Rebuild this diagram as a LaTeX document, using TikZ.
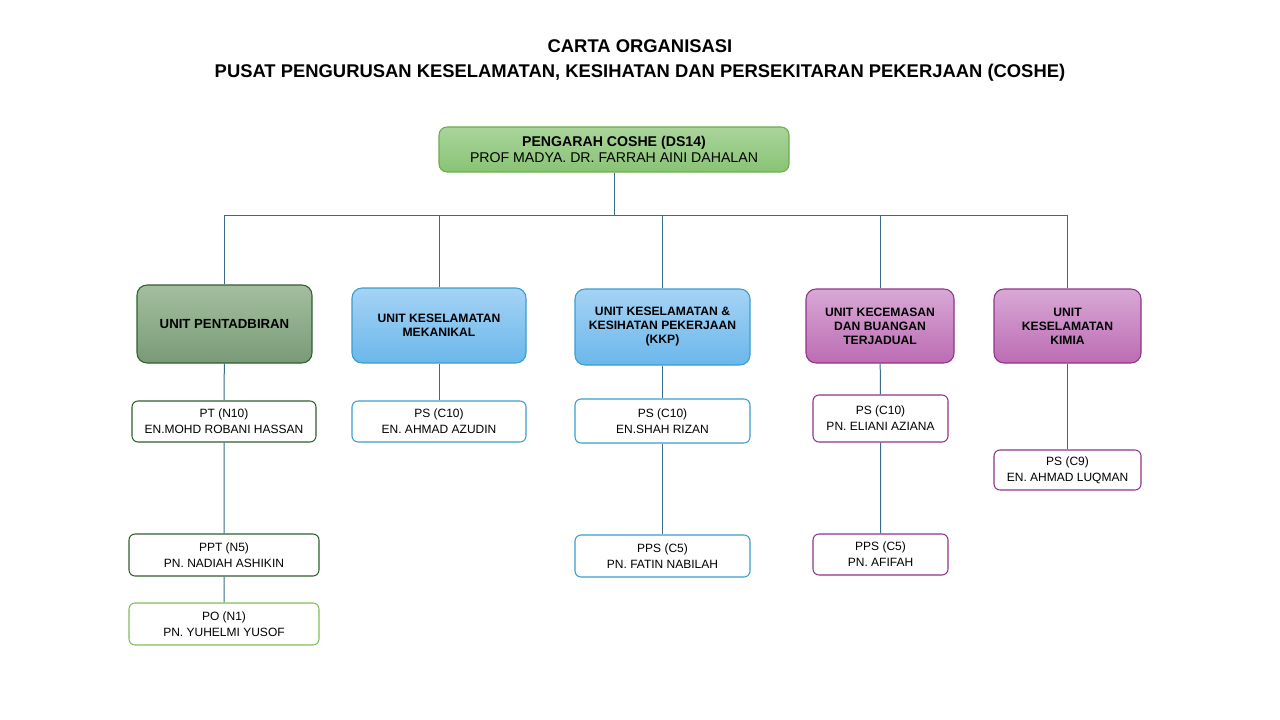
\documentclass[tikz,border=0pt]{standalone}
\usepackage{fontspec}
\setmainfont{Liberation Sans}
\definecolor{lnblue}{HTML}{3A6B8C}
\definecolor{grnA}{HTML}{AAD49C}
\definecolor{grnB}{HTML}{88C474}
\definecolor{grnD}{HTML}{6AAD4A}
\definecolor{oliA}{HTML}{A3BE9F}
\definecolor{oliB}{HTML}{7A9B77}
\definecolor{oliD}{HTML}{2F5E2F}
\definecolor{bluA}{HTML}{A5D3F5}
\definecolor{bluB}{HTML}{6BB7EB}
\definecolor{bluD}{HTML}{3A9CCF}
\definecolor{purA}{HTML}{D8A8D5}
\definecolor{purB}{HTML}{BC6CB4}
\definecolor{purD}{HTML}{8F348A}
\definecolor{ltgD}{HTML}{7CBF5A}
\tikzset{every picture/.style={line width=0.75pt}}
\tikzset{
  unitbox/.style={rounded corners=7.5pt, draw=#1, line width=0.8pt, align=center,
    font=\fontsize{9.1}{10.5}\selectfont\bfseries, inner sep=0.75pt},
  staffbox/.style={rounded corners=4.5pt, draw=#1, fill=white, line width=0.8pt, align=center,
    font=\fontsize{9}{12}\selectfont, inner sep=0.75pt},
  link/.style={draw=lnblue, line width=0.75pt}
}

\begin{document}
\begin{tikzpicture}[x=0.75pt,y=0.75pt,yscale=-1,xscale=1]
\useasboundingbox (0,0) rectangle (1280,720);

% Title
\draw (640,60.5) node [align=center, font=\fontsize{13.8}{18.75}\selectfont\bfseries] (title)
  {CARTA ORGANISASI\\PUSAT PENGURUSAN KESELAMATAN, KESIHATAN DAN PERSEKITARAN PEKERJAAN (COSHE)};

% Pengarah
\draw (614,149.5) node [rounded corners=6pt, draw=grnD, top color=grnA, bottom color=grnB, line width=0.8pt,
  minimum width=262.5pt, minimum height=33.75pt, align=center, inner sep=0.75pt,
  font=\fontsize{10.6}{12}\selectfont] (dir)
  {\textbf{PENGARAH COSHE (DS14)}\\PROF MADYA. DR. FARRAH AINI DAHALAN};

% Unit boxes
\draw (224.5,324) node [unitbox=oliD, top color=oliA, bottom color=oliB, minimum width=131.25pt, minimum height=58.5pt,
  font=\fontsize{9.9}{11}\selectfont\bfseries] (upen) {UNIT PENTADBIRAN};
\draw (439,325.5) node [unitbox=bluD, top color=bluA, bottom color=bluB, minimum width=130.5pt, minimum height=56.25pt] (umek)
  {UNIT KESELAMATAN\\MEKANIKAL};
\draw (662.5,327) node [unitbox=bluD, top color=bluA, bottom color=bluB, minimum width=131.25pt, minimum height=57pt] (ukkp)
  {UNIT KESELAMATAN \&\\KESIHATAN PEKERJAAN\\(KKP)};
\draw (880,326) node [unitbox=purD, top color=purA, bottom color=purB, minimum width=111pt, minimum height=55.5pt] (ukec)
  {UNIT KECEMASAN\\DAN BUANGAN\\TERJADUAL};
\draw (1067.5,326) node [unitbox=purD, top color=purA, bottom color=purB, minimum width=110.25pt, minimum height=55.5pt] (ukim)
  {UNIT\\KESELAMATAN\\KIMIA};

% Staff boxes
\draw (224,421.5) node [staffbox=oliD, minimum width=138pt, minimum height=30.75pt] (pt) {PT (N10)\\EN.MOHD ROBANI HASSAN};
\draw (224,555) node [staffbox=oliD, minimum width=142.5pt, minimum height=31.5pt] (ppt) {PPT (N5)\\PN. NADIAH ASHIKIN};
\draw (224,624) node [staffbox=ltgD, minimum width=142.5pt, minimum height=31.5pt] (po) {PO (N1)\\PN. YUHELMI YUSOF};
\draw (439,421.5) node [staffbox=bluD, minimum width=130.5pt, minimum height=30.75pt] (psmek) {PS (C10)\\EN. AHMAD AZUDIN};
\draw (662.5,421) node [staffbox=bluD, minimum width=131.25pt, minimum height=33pt] (pskkp) {PS (C10)\\EN.SHAH RIZAN};
\draw (662.5,556) node [staffbox=bluD, minimum width=131.25pt, minimum height=31.5pt] (ppskkp) {PPS (C5)\\PN. FATIN NABILAH};
\draw (880.5,418.5) node [staffbox=purD, minimum width=101.25pt, minimum height=35.25pt] (pskec) {PS (C10)\\PN. ELIANI AZIANA};
\draw (880.5,554.5) node [staffbox=purD, minimum width=101.25pt, minimum height=30.75pt] (ppskec) {PPS (C5)\\PN. AFIFAH};
\draw (1067.5,470) node [staffbox=purD, minimum width=110.25pt, minimum height=30pt] (pskim) {PS (C9)\\EN. AHMAD LUQMAN};

% Connectors
\coordinate (busL) at (224,216);
\coordinate (busR) at (1068,216);
\draw [link] (busL) -- (busR);
\draw [link] (dir.south) -- (dir.south |- busL);
\foreach \u in {upen,umek,ukkp,ukec,ukim}
  \draw [link] (\u.north) -- (\u.north |- busL);
\draw [link] (upen) -- (pt) (pt) -- (ppt) (ppt) -- (po);
\draw [link] (umek) -- (psmek);
\draw [link] (ukkp) -- (pskkp) (pskkp) -- (ppskkp);
\draw [link] (ukec) -- (pskec) (pskec) -- (ppskec);
\draw [link] (ukim) -- (pskim);
\end{tikzpicture}
\end{document}
